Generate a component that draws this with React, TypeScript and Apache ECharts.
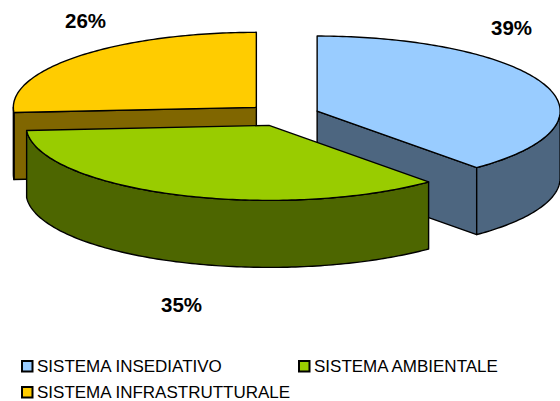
import React, { useEffect, useRef } from "react";
import * as echarts from "echarts";

const categories = ["SISTEMA INSEDIATIVO", "SISTEMA AMBIENTALE", "SISTEMA INFRASTRUTTURALE"];
const values = [38.6, 35.3, 26.1];
const topColors = ["#99CCFF", "#99CC00", "#FFCC00"];
const sideColors = ["#4D6680", "#4D6600", "#806600"];

const CX = 283;
const CY = 115;
const RX = 243;
const RY = 75;
const DEPTH = 67;
const EXPLODE = 0.15;
const FONT = '"Liberation Sans", Arial, sans-serif';
const LABEL_POS = [[511.5, 27.5], [181.5, 304.5], [85.5, 20.5]];
const LEGEND_POS = [[21, 358], [298, 358], [21, 384]];
const DRAW_Z = [2, 3, 1];

const total = values.reduce((a, b) => a + b, 0);
const rad = (d: number) => (d * Math.PI) / 180;

function sliceItem(index: number) {
  const start = (values.slice(0, index).reduce((a, b) => a + b, 0) / total) * 360;
  const end = start + (values[index] / total) * 360;
  const mid = (start + end) / 2;
  const cx = CX + EXPLODE * RX * Math.sin(rad(mid));
  const cy = CY - EXPLODE * RY * Math.cos(rad(mid));
  const pt = (a: number, dy = 0): number[] => [cx + RX * Math.sin(rad(a)), cy - RY * Math.cos(rad(a)) + dy];
  const arc = (a: number, b: number, dy = 0) => {
    const out: number[][] = [];
    const n = Math.max(2, Math.ceil(b - a));
    for (let i = 0; i <= n; i++) out.push(pt(a + ((b - a) * i) / n, dy));
    return out;
  };
  const faceStyle = (fill: string) => ({ fill, stroke: "#000", lineWidth: 1.4, lineJoin: "round" });
  const children: any[] = [];
  const cut = (a: number) => ({
    type: "polygon",
    shape: { points: [[cx, cy], pt(a), pt(a, DEPTH), [cx, cy + DEPTH]] },
    style: faceStyle(sideColors[index]),
  });
  if (Math.cos(rad(start - 90)) < 0) children.push(cut(start));
  if (Math.cos(rad(end + 90)) < 0) children.push(cut(end));
  const wallFrom = Math.max(start, 90);
  const wallTo = Math.min(end, 270);
  if (wallTo > wallFrom) {
    children.push({
      type: "polygon",
      shape: { points: [...arc(wallFrom, wallTo), ...arc(wallFrom, wallTo, DEPTH).reverse()] },
      style: faceStyle(sideColors[index]),
    });
  }
  children.push({
    type: "polygon",
    shape: { points: [[cx, cy], ...arc(start, end)] },
    style: faceStyle(topColors[index]),
  });
  children.push({
    type: "text",
    x: LABEL_POS[index][0],
    y: LABEL_POS[index][1],
    style: {
      text: `${Math.round(values[index])}%`,
      fill: "#000",
      font: `bold 20.5px ${FONT}`,
      align: "center",
      verticalAlign: "middle",
    },
  });
  children.push({
    type: "rect",
    shape: { x: LEGEND_POS[index][0] + 1, y: LEGEND_POS[index][1] + 3, width: 10.5, height: 10.5 },
    style: { fill: topColors[index], stroke: "#000", lineWidth: 2 },
  });
  return { type: "group", children };
}

export default function App() {
  const ref = useRef<HTMLDivElement>(null);
  useEffect(() => {
    document.body.style.margin = "0";
    const chart = echarts.init(ref.current!, null, { renderer: "svg" });
    chart.setOption({
      animation: false,
      backgroundColor: "#fff",
      legend: categories.map((name, i) => ({
        data: [name],
        left: LEGEND_POS[i][0],
        top: LEGEND_POS[i][1],
        padding: 0,
        itemWidth: 12,
        itemHeight: 12,
        itemGap: 0,
        icon: "rect",
        selectedMode: false,
        itemStyle: { color: "transparent", borderWidth: 0 },
        textStyle: { fontFamily: FONT, fontSize: 17, color: "#000", padding: [0, 0, 0, -1] },
      })),
      series: categories.map((name, i) => ({
        type: "custom",
        name,
        coordinateSystem: "none",
        silent: true,
        z: DRAW_Z[i],
        itemStyle: { color: topColors[i] },
        data: [[values[i]]],
        renderItem: () => sliceItem(i),
      })),
    });
    return () => chart.dispose();
  }, []);
  return <div ref={ref} style={{ width: 560, height: 401 }} />;
}
